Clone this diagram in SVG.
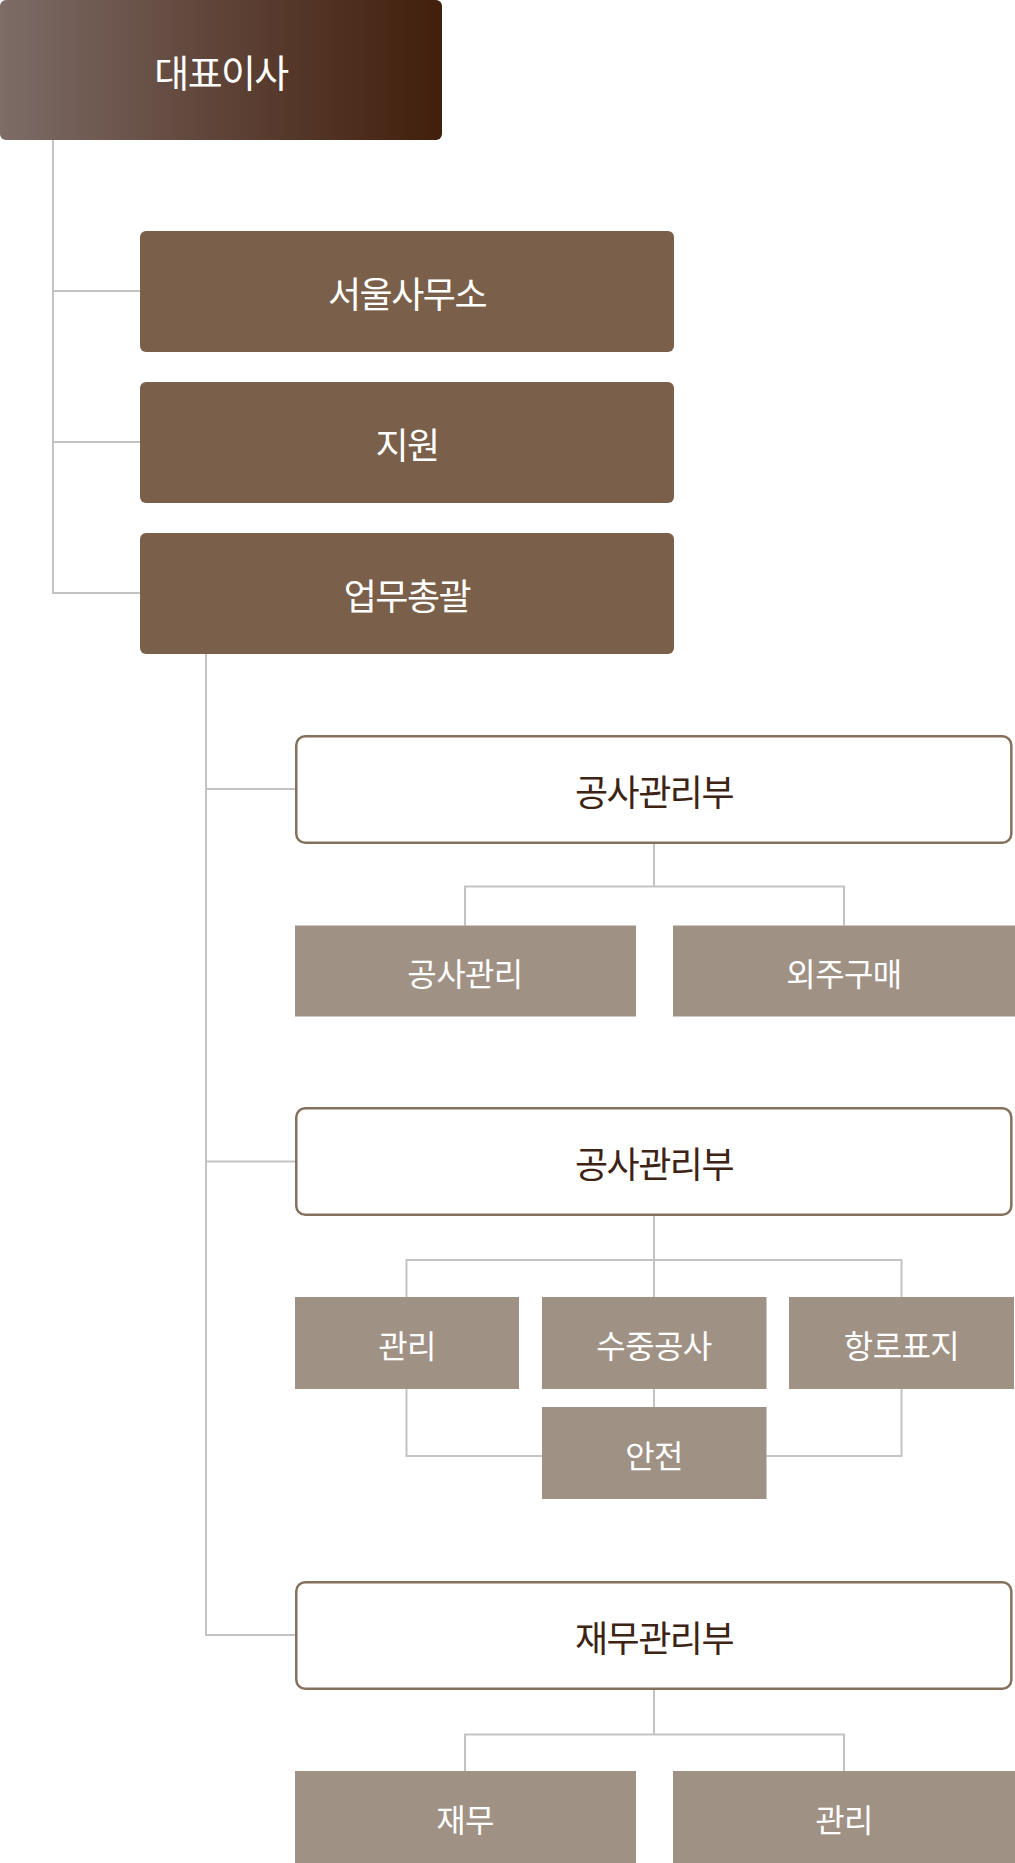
<svg xmlns="http://www.w3.org/2000/svg" width="1015" height="1863" viewBox="0 0 1015 1863">
<defs>
<linearGradient id="ceoGrad" x1="0" y1="0" x2="1" y2="0">
<stop offset="0" stop-color="#7d6c67"/>
<stop offset="0.5" stop-color="#5e4337"/>
<stop offset="1" stop-color="#421f0c"/>
</linearGradient>
<style>
.t{font-family:"Noto Sans CJK KR","Noto Sans",sans-serif;font-weight:400;text-anchor:middle;dominant-baseline:central;}
.ceo{font-size:38px;fill:#ffffff;letter-spacing:-1.6px;}
.l1{font-size:36px;fill:#ffffff;letter-spacing:-1.5px;}
.l2{font-size:36px;fill:#3d2314;letter-spacing:-1.5px;}
.l3{font-size:32px;fill:#ffffff;letter-spacing:-0.6px;}
.b1{fill:#7a604a;}
.b2{fill:#ffffff;stroke:#85705d;stroke-width:2.5;}
.b3{fill:#a09185;}
.c{fill:none;stroke:#c3c3c3;stroke-width:2;}
</style>
</defs>
<rect width="1015" height="1863" fill="#ffffff"/>
<g id="connectors">
<path class="c" d="M53 140 V593 H140 M53 291 H140 M53 442 H140"/>
<path class="c" d="M206 654 V1635 H295 M206 789 H295 M206 1161.5 H295"/>
<path class="c" d="M654 844 V886.5 M465 925.5 V886.5 H844 V925.5"/>
<path class="c" d="M654 1216 V1297 M406.5 1297 V1260 H901.5 V1297"/>
<path class="c" d="M654 1389 V1407 M406.5 1389 V1456 H542 M901.5 1389 V1456 H766.5"/>
<path class="c" d="M654 1690 V1734.5 M465 1771 V1734.5 H844 V1771"/>
</g>
<g id="ceo">
<rect x="0" y="0" width="442" height="140" rx="6" fill="url(#ceoGrad)"/>
<text class="t ceo" x="221" y="70.5">대표이사</text>
</g>
<g id="seoul-office">
<rect class="b1" x="140" y="231" width="534" height="121" rx="6"/>
<text class="t l1" x="407" y="292">서울사무소</text>
</g>
<g id="branch">
<rect class="b1" x="140" y="382" width="534" height="121" rx="6"/>
<text class="t l1" x="407" y="443">지원</text>
</g>
<g id="general-affairs">
<rect class="b1" x="140" y="533" width="534" height="121" rx="6"/>
<text class="t l1" x="407" y="594">업무총괄</text>
</g>
<g id="dept-1">
<rect class="b2" x="296.25" y="736.25" width="715.1" height="106.5" rx="9"/>
<text class="t l2" x="654" y="790">공사관리부</text>
</g>
<g id="dept1-construction">
<rect class="b3" x="295" y="925.5" width="341" height="91"/>
<text class="t l3" x="465" y="971.5">공사관리</text>
</g>
<g id="dept1-purchase">
<rect class="b3" x="673" y="925.5" width="342" height="91"/>
<text class="t l3" x="844" y="971.5">외주구매</text>
</g>
<g id="dept-2">
<rect class="b2" x="296.25" y="1108.25" width="715.1" height="106.5" rx="9"/>
<text class="t l2" x="654" y="1162">공사관리부</text>
</g>
<g id="dept2-management">
<rect class="b3" x="295" y="1297" width="224" height="92"/>
<text class="t l3" x="407" y="1343.5">관리</text>
</g>
<g id="dept2-underwater">
<rect class="b3" x="542" y="1297" width="224.5" height="92"/>
<text class="t l3" x="654" y="1343.5">수중공사</text>
</g>
<g id="dept2-beacon">
<rect class="b3" x="789" y="1297" width="225" height="92"/>
<text class="t l3" x="901.5" y="1343.5">항로표지</text>
</g>
<g id="dept2-safety">
<rect class="b3" x="542" y="1407" width="224.5" height="92"/>
<text class="t l3" x="654" y="1453.5">안전</text>
</g>
<g id="dept-3">
<rect class="b2" x="296.25" y="1582.25" width="715.1" height="106.5" rx="9"/>
<text class="t l2" x="654" y="1636">재무관리부</text>
</g>
<g id="dept3-finance">
<rect class="b3" x="295" y="1771" width="341" height="92"/>
<text class="t l3" x="465" y="1817.5">재무</text>
</g>
<g id="dept3-management">
<rect class="b3" x="673" y="1771" width="342" height="92"/>
<text class="t l3" x="844" y="1817.5">관리</text>
</g>
</svg>
